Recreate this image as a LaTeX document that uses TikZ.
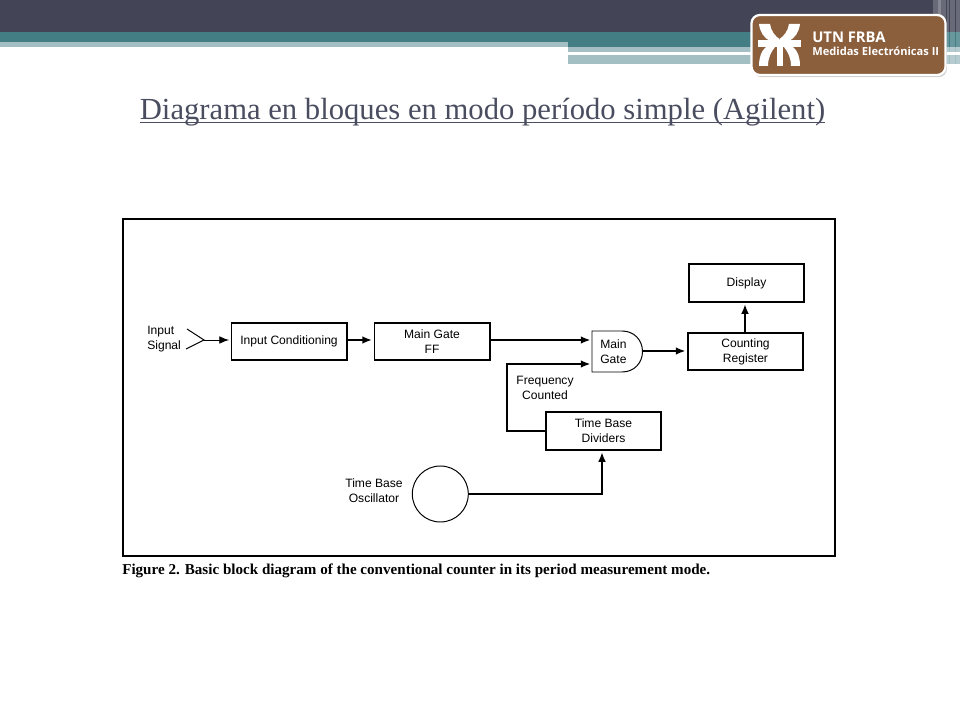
\documentclass[tikz,border=0pt]{standalone}
\usepackage{fontspec}
\setmainfont{Liberation Sans}
\newfontfamily\titlefont{Liberation Serif}
\newfontfamily\capfont{Liberation Serif}
\newfontfamily\badgefont{Open Sans}
\usetikzlibrary{arrows.meta,shadows}
\definecolor{slate}{HTML}{434557}
\definecolor{teal1}{HTML}{437E85}
\definecolor{teal2}{HTML}{A3BFC4}
\definecolor{brownbadge}{HTML}{8B5E3C}
\definecolor{titlecol}{HTML}{4A4D60}
\tikzset{
	bloque/.style={draw, line width=1.4pt, minimum width=2.875cm, minimum height=0.93cm, inner sep=0pt, align=center, font=\fontsize{8.6}{10.6}\selectfont},
	etiq/.style={align=center, inner sep=0pt, font=\fontsize{8.6}{10.6}\selectfont},
	flecha/.style={line width=1.4pt, -{Latex[length=7pt,width=5.5pt]}, shorten >=1pt},
	fina/.style={line width=0.7pt},
	raya/.style={draw=none, fill=white, fill opacity=0.2}
}
\begin{document}
\begin{tikzpicture}[x=0.025cm, y=-0.025cm]
	\useasboundingbox (0,0) rectangle (960,720);
	% banda superior
	\fill[slate] (0,0) rectangle (960,32);
	\fill[teal1] (0,32) rectangle (960,42);
	\fill[teal2] (0,42) rectangle (568,47);
	\fill[teal1] (568,42) rectangle (960,47);
	\fill[teal2] (568,47) rectangle (960,52);
	\fill[teal2] (568,55) rectangle (960,64.5);
	% rayas verticales
	\foreach \xa/\xb in {933/941, 938/946, 947/949, 950/955, 956/960}
		\fill[raya] (\xa,0) rectangle (\xb,64.5);
	% escudo
	\node[draw=white, line width=1.6pt, fill=brownbadge, rounded corners=6pt, minimum width=4.85cm, minimum height=1.5cm, drop shadow={shadow xshift=1pt, shadow yshift=-1.5pt, opacity=0.4}] (escudo) at (848.5,45) {};
	\fill[white] (759,24) -- (770,24) .. controls (771,31) and (775,36) .. (779.5,39) -- (779.5,41) -- (770,41) .. controls (764,38) and (760,32) .. (759,24) -- cycle;
	\fill[white] (800,24) -- (789,24) .. controls (788,31) and (784,36) .. (779.5,39) -- (779.5,41) -- (789,41) .. controls (795,38) and (799,32) .. (800,24) -- cycle;
	\fill[white] (759,66) -- (768,66) .. controls (768,58) and (771,52) .. (775,47) -- (766,47) .. controls (761,51) and (759,58) .. (759,66) -- cycle;
	\fill[white] (800,66) -- (791,66) .. controls (791,58) and (788,52) .. (784,47) -- (793,47) .. controls (798,51) and (800,58) .. (800,66) -- cycle;
	\fill[white] (776.5,47) rectangle (782.5,66);
	\fill[white] (758,40.5) rectangle (801,47);
	\node[anchor=west, inner sep=0pt, white, font=\badgefont\bfseries\fontsize{10.5}{12}\selectfont] (utn) at (812,37) {UTN FRBA};
	\node[anchor=west, inner sep=0pt, white, font=\badgefont\bfseries\fontsize{7.9}{9}\selectfont] (medidas) at (812,51.5) {Medidas Electrónicas II};
	% titulo
	\node[anchor=base, inner sep=0pt, text=titlecol, font=\titlefont\fontsize{21.8}{26}\selectfont] (titulo) at (482.5,120) {\underline{\smash{Diagrama en bloques en modo período simple (Agilent)}}};
	% marco y epigrafe
	\node[draw, line width=1.4pt, minimum width=17.8cm, minimum height=8.4cm, inner sep=0pt] (marco) at (478.75,387.5) {};
	\node[anchor=west, inner sep=0pt, font=\capfont\bfseries\fontsize{10.73}{12}\selectfont] (epigrafe) at (122,571) {Figure 2. Basic block diagram of the conventional counter in its period measurement mode.};
	% bloques
	\node[bloque] (cond) at (289,341.5) {Input Conditioning};
	\node[bloque] (ff) at (432,341.5) {Main Gate\\FF};
	\node[bloque] (display) at (746.5,283) {Display};
	\node[bloque] (registro) at (745.5,351.5) {Counting\\Register};
	\node[bloque] (divisor) at (603.5,431) {Time Base\\Dividers};
	\node[draw, fina, circle, minimum size=1.4cm, inner sep=0pt] (osc) at (440.3,494) {};
	\node[anchor=west, text width=0.8625cm, inner xsep=0.2cm, inner ysep=0pt, align=left, font=\fontsize{8.6}{10.6}\selectfont] (compuerta) at (592,351.5) {Main\\Gate};
	% compuerta
	\draw[fina] (592,331) -- (622,331) .. controls (634,331) and (642.5,340) .. (642.5,351.5) .. controls (642.5,363) and (634,372) .. (622,372) -- (592,372) -- cycle;
	% etiquetas
	\node[etiq, align=left, anchor=west] (entrada) at (147,339) {Input\\Signal};
	\node[etiq] (frec) at (545,388) {Frequency\\Counted};
	\node[etiq] (base) at (374,491) {Time Base\\Oscillator};
	% puntos libres
	\coordinate (antA) at (187,329);
	\coordinate (antB) at (186,349);
	\coordinate (apice) at (204,340);
	\coordinate (gateA) at (592,340);
	\coordinate (gateB) at (592,364);
	\coordinate (gateC) at (642.5,351);
	\coordinate (codoA) at (507,364);
	\coordinate (codoB) at (602,494);
	\coordinate (colA) at (745,300);
	% conexiones
	\draw[fina] (antA) -- (apice) -- (antB);
	\draw[fina, -{Latex[length=7pt,width=5.5pt]}, shorten >=1pt] (apice) -- (apice -| cond.west);
	\draw[flecha] (cond.east |- apice) -- (apice -| ff.west);
	\draw[flecha] (ff.east |- gateA) -- (gateA);
	\draw[flecha] (divisor.west) -| (codoA) -- (gateB);
	\draw[flecha] (gateC) -- (gateC -| registro.west);
	\draw[flecha] (colA |- registro.north) -- (colA |- display.south);
	\draw[flecha] (osc.east) -- (codoB) -- (codoB |- divisor.south);
\end{tikzpicture}
\end{document}
